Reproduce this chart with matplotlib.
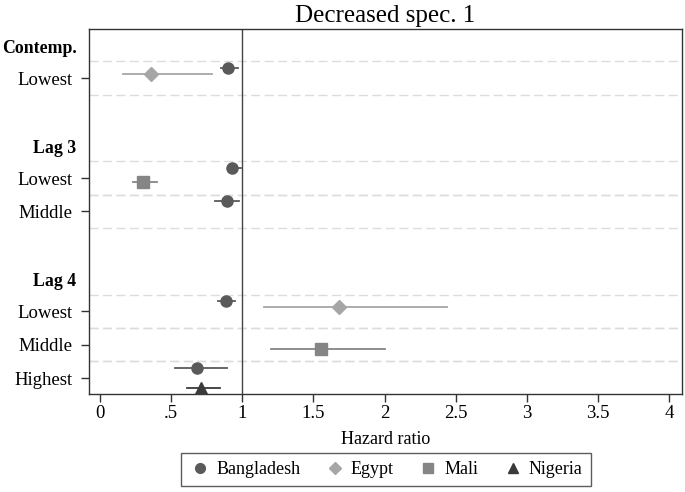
import matplotlib
matplotlib.use("Agg")
import matplotlib.pyplot as plt
import numpy as np
from matplotlib.lines import Line2D
from matplotlib.transforms import blended_transform_factory

plt.rcParams['font.family'] = ['Liberation Serif', 'DejaVu Serif']

# Rows (top to bottom)
row_labels = ["Contemp.", "Lowest", "Lag 3", "Lowest", "Middle", "Lag 4", "Lowest", "Middle", "Highest"]
row_is_header = [True, False, True, False, False, True, False, False, False]
row_pos = [0, 1, 3, 4, 5, 7, 8, 9, 10]

countries = ["Bangladesh", "Egypt", "Mali", "Nigeria"]
# estimates per country: (row index into row_pos, hr, lo, hi)
bangladesh = [(1, 0.90, 0.85, 0.97), (3, 0.93, 0.90, 0.99), (4, 0.89, 0.81, 0.98),
              (6, 0.885, 0.83, 0.95), (8, 0.68, 0.53, 0.89)]
egypt = [(1, 0.355, 0.16, 0.79), (6, 1.68, 1.15, 2.44)]
mali = [(3, 0.30, 0.23, 0.40), (7, 1.55, 1.20, 2.00)]
nigeria = [(8, 0.71, 0.61, 0.84)]

series = [bangladesh, egypt, mali, nigeria]
colors = ["#5a5a5a", "#a6a6a6", "#858585", "#3a3a3a"]
markers = ["o", "D", "s", "^"]
msizes = [8, 7.5, 8, 9]
offsets = [-0.3, -0.12, 0.12, 0.3]

xticks = [0, 0.5, 1, 1.5, 2, 2.5, 3, 3.5, 4]
xticklabels = ["0", ".5", "1", "1.5", "2", "2.5", "3", "3.5", "4"]

fig = plt.figure(figsize=(6.85, 4.92), dpi=100)
ax = fig.add_axes([0.130, 0.199, 0.8656, 0.742])

# dashed separators around data rows
for hdr, p in zip(row_is_header, row_pos):
    if not hdr:
        for d in (-0.5, 0.5):
            ax.axhline(p + d, color="#dcdcdc", lw=1.0, ls=(0, (6.5, 3.2)), zorder=0)

ax.axvline(1, color="#444444", lw=1.0, zorder=1)

for data, c, m, ms, off in zip(series, colors, markers, msizes, offsets):
    for ri, hr, lo, hi in data:
        y = row_pos[ri] + off
        ax.plot([lo, hi], [y, y], color=c, lw=1.3, zorder=2)
        ax.plot([hr], [y], marker=m, color=c, ms=ms, mec=c, ls="none", zorder=3)

ax.set_xlim(-0.077, 4.09)
ax.set_ylim(10.48, -0.47)

ax.set_xticks(xticks)
ax.set_xticklabels(xticklabels, fontsize=13.5)

data_pos = [p for h, p in zip(row_is_header, row_pos) if not h]
data_lab = [l for h, l in zip(row_is_header, row_labels) if not h]
ax.set_yticks(data_pos)
ax.set_yticklabels(data_lab, fontsize=13.5)

trans = blended_transform_factory(ax.transAxes, ax.transData)
for h, p, l in zip(row_is_header, row_pos, row_labels):
    if h:
        ax.text(-0.021, p + 0.1, l, transform=trans, ha="right", va="center",
                fontsize=12.8, fontweight="bold")

ax.tick_params(axis="both", direction="out", length=6, width=1, color="#333333")
ax.tick_params(axis="x", pad=2)
ax.tick_params(axis="y", pad=6)
for s in ax.spines.values():
    s.set_color("#333333")
    s.set_linewidth(1.0)

ax.set_xlabel("Hazard ratio", fontsize=13, labelpad=6)
ax.set_title("Decreased spec. 1", fontsize=18, pad=5)

handles = [Line2D([], [], marker=m, color=c, ls="none", ms=7 if m != "D" else 6.5, mec=c)
           for c, m in zip(colors, markers)]
leg = fig.legend(handles, countries, loc="center", bbox_to_anchor=(0.5635, 0.0457),
                 ncol=4, fontsize=13, frameon=True, fancybox=False,
                 edgecolor="#333333", handletextpad=0.3, columnspacing=1.3,
                 handlelength=1.2, borderpad=0.45)
leg.get_frame().set_linewidth(1.0)

fig.savefig("out.png", dpi=100)
